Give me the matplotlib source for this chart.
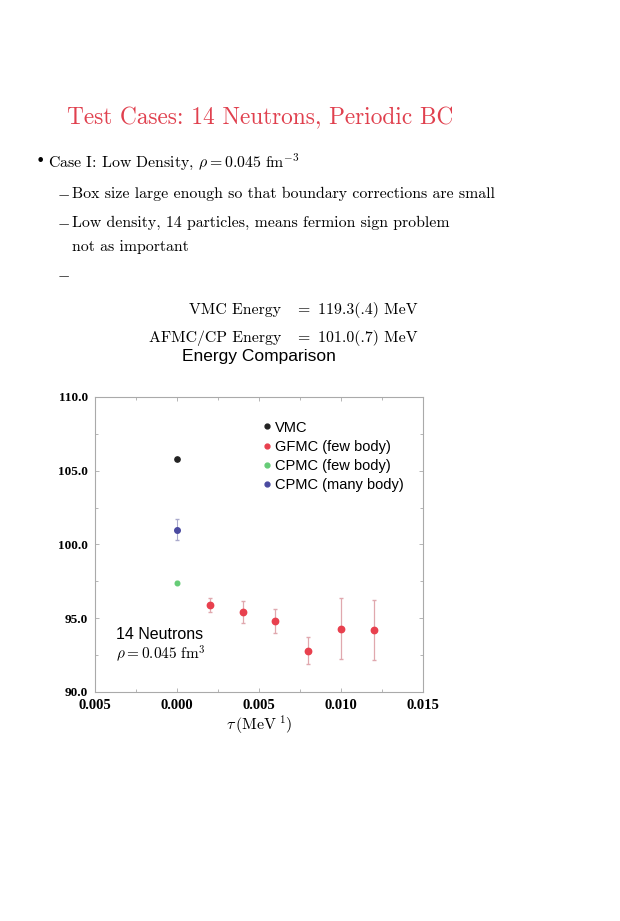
import matplotlib
matplotlib.use("Agg")
import matplotlib.pyplot as plt
from matplotlib.ticker import MultipleLocator, FixedLocator, FixedFormatter

plt.rcParams['mathtext.fontset'] = 'cm'

# ---- data ----
vmc_tau = [0.0]
vmc_E = [105.8]

cpmc_many_tau = [0.0]
cpmc_many_E = [101.0]
cpmc_many_err = [0.7]

cpmc_few_tau = [0.0]
cpmc_few_E = [97.4]
cpmc_few_err = [0.1]

gfmc_tau = [0.002, 0.004, 0.006, 0.008, 0.010, 0.012]
gfmc_E = [95.9, 95.4, 94.8, 92.8, 94.3, 94.2]
gfmc_err = [0.45, 0.75, 0.8, 0.9, 2.05, 2.05]

xticks = [-0.005, 0.0, 0.005, 0.010, 0.015]
xticklabels = ["0.005", "0.000", "0.005", "0.010", "0.015"]
yticks = [90, 95, 100, 105, 110]
yticklabels = ["90.0", "95.0", "100.0", "105.0", "110.0"]

legend_labels = ["VMC", "GFMC (few body)", "CPMC (few body)", "CPMC (many body)"]
legend_colors = ["#222222", "#e8404e", "#66cc77", "#4a4aa0"]

W, H = 620, 921
fig = plt.figure(figsize=(W/100, H/100), dpi=100)

def fx(px):
    return px / W

def fy(py):
    return 1 - py / H

serif = 'cmr10'
red = "#e0404e"

fig.text(fx(260), fy(118), "Test Cases: 14 Neutrons, Periodic BC", color=red,
         fontsize=16.8, family=serif, ha='center', va='center')

fs = 11.4
fig.text(fx(36), fy(162), "\u2022", fontsize=fs, family='DejaVu Sans', ha='left', va='center')
fig.text(fx(48), fy(162), r"Case I: Low Density, $\rho = 0.045\ \mathrm{fm}^{-3}$",
         fontsize=fs, family=serif, ha='left', va='center')
fig.text(fx(57), fy(194), r"$-$", fontsize=fs, ha='left', va='center')
fig.text(fx(72), fy(194), "Box size large enough so that boundary corrections are small",
         fontsize=fs, family=serif, ha='left', va='center')
fig.text(fx(57), fy(223), r"$-$", fontsize=fs, ha='left', va='center')
fig.text(fx(72), fy(223), "Low density, 14 particles, means fermion sign problem",
         fontsize=fs, family=serif, ha='left', va='center')
fig.text(fx(72), fy(247), "not as important", fontsize=fs, family=serif, ha='left', va='center')
fig.text(fx(57), fy(275), r"$-$", fontsize=fs, ha='left', va='center')

fig.text(fx(281), fy(310), "VMC Energy", fontsize=fs, family=serif, ha='right', va='center')
fig.text(fx(303), fy(310), "=", fontsize=fs, family=serif, ha='center', va='center')
fig.text(fx(318), fy(310), "119.3(.4) MeV", fontsize=fs, family=serif, ha='left', va='center')
fig.text(fx(281), fy(338), "AFMC/CP Energy", fontsize=fs, family=serif, ha='right', va='center')
fig.text(fx(303), fy(338), "=", fontsize=fs, family=serif, ha='center', va='center')
fig.text(fx(318), fy(338), "101.0(.7) MeV", fontsize=fs, family=serif, ha='left', va='center')

fig.text(fx(259), fy(356), "Energy Comparison", fontsize=12.5, family='Liberation Sans',
         ha='center', va='center')

ax = fig.add_axes([fx(95), fy(692), fx(423) - fx(95), fy(397) - fy(692)])
ax.set_xlim(-0.005, 0.015)
ax.set_ylim(90, 110)

ax.plot(vmc_tau, vmc_E, 'o', color=legend_colors[0], ms=3.8, zorder=3)
ax.errorbar(cpmc_many_tau, cpmc_many_E, yerr=cpmc_many_err, fmt='o', color=legend_colors[3],
            ms=4, ecolor="#aaaacc", elinewidth=0.8, capsize=1.5, zorder=3)
ax.errorbar(cpmc_few_tau, cpmc_few_E, yerr=cpmc_few_err, fmt='o', color=legend_colors[2],
            ms=3.3, ecolor="#aaddaa", elinewidth=0.8, capsize=1.5, zorder=3)
ax.errorbar(gfmc_tau, gfmc_E, yerr=gfmc_err, fmt='o', color=legend_colors[1],
            ms=4.6, ecolor="#e0a8ae", elinewidth=0.9, capsize=1.5, zorder=3)

ax.xaxis.set_major_locator(FixedLocator(xticks))
ax.xaxis.set_major_formatter(FixedFormatter(xticklabels))
ax.yaxis.set_major_locator(FixedLocator(yticks))
ax.yaxis.set_major_formatter(FixedFormatter(yticklabels))
ax.xaxis.set_minor_locator(MultipleLocator(0.0025))
ax.yaxis.set_minor_locator(MultipleLocator(2.5))
ax.tick_params(which='both', direction='in', top=True, right=True, color='#aaaaaa')
ax.tick_params(which='major', length=3, width=0.6)
ax.tick_params(which='minor', length=2, width=0.6)
ax.tick_params(axis='x', labelsize=10.5, pad=5)
ax.tick_params(axis='y', labelsize=9.5, pad=5)
for lab in ax.get_xticklabels() + ax.get_yticklabels():
    lab.set_family('Liberation Serif')
    lab.set_fontweight('bold')
for sp in ax.spines.values():
    sp.set_color('#aaaaaa')
    sp.set_linewidth(0.8)

ax.set_xlabel(r"$\tau\,(\mathrm{MeV}^{\ 1})$", fontsize=11.5, labelpad=1)

# legend
handles = [plt.Line2D([], [], marker='o', ls='', color=c, ms=3.5) for c in legend_colors]
leg = ax.legend(handles, legend_labels, loc='upper left', bbox_to_anchor=(0.49, 0.94),
                frameon=False, handletextpad=0.1, handlelength=0.8, labelspacing=0.36,
                prop={'family': 'Liberation Sans', 'size': 10.5}, borderaxespad=0)

ax.text(0.065, 0.195, "14 Neutrons", transform=ax.transAxes, fontsize=11.5,
        family='Liberation Sans', ha='left', va='center')
ax.text(0.065, 0.13, r"$\rho = 0.045\ \mathrm{fm}^{3}$", transform=ax.transAxes, fontsize=11,
        ha='left', va='center')

fig.savefig("out.png", dpi=100)
